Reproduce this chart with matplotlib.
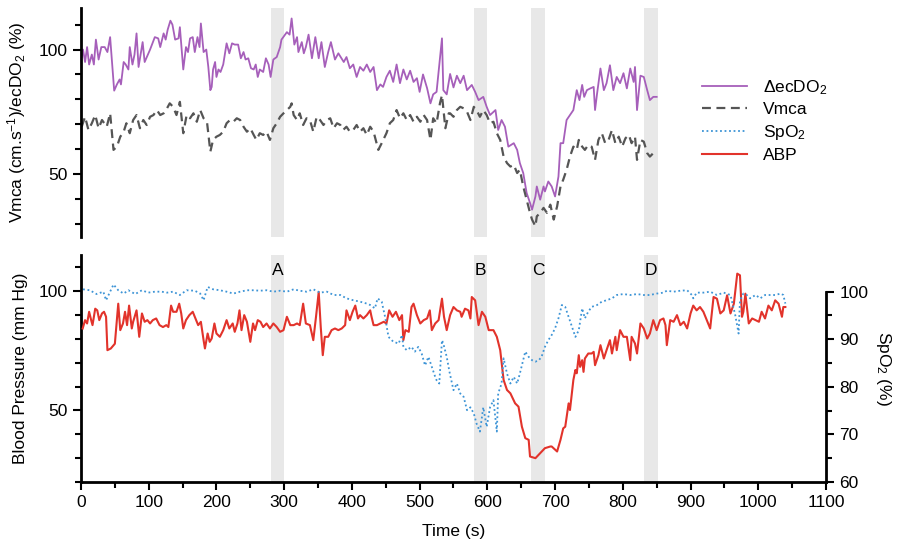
import matplotlib
matplotlib.use('Agg')
import matplotlib.pyplot as plt
from matplotlib.ticker import MultipleLocator, FixedLocator

plt.rcParams['font.family'] = ['Liberation Sans', 'DejaVu Sans']
plt.rcParams['mathtext.fontset'] = 'custom'
plt.rcParams['mathtext.rm'] = 'Liberation Sans'
plt.rcParams['mathtext.it'] = 'Liberation Sans:italic'
plt.rcParams['font.size'] = 12

# --- data (time in s) ---
decdo2_t = [1, 3, 6, 9, 12, 16, 19, 22, 26, 30, 35, 39, 43, 49, 53, 57, 59, 63, 66, 70,
            72, 76, 79, 82, 85, 91, 94, 102, 109, 114, 117, 122, 125, 128, 132, 135, 139, 144, 146, 151,
            155, 158, 161, 165, 168, 172, 175, 177, 181, 185, 188, 191, 193, 195, 198, 200, 203, 206, 210, 215,
            219, 223, 227, 232, 236, 240, 243, 247, 251, 255, 258, 261, 264, 269, 273, 277, 280, 284, 289, 294,
            296, 304, 308, 311, 315, 319, 321, 326, 329, 332, 336, 341, 346, 351, 355, 360, 365, 369, 375, 380,
            388, 392, 397, 402, 407, 412, 417, 422, 427, 432, 437, 442, 446, 451, 456, 461, 466, 471, 476, 481,
            486, 491, 496, 500, 505, 511, 516, 520, 525, 533, 535, 540,
            545, 550, 555, 560, 565, 570, 577, 582, 587, 594, 599, 604, 612, 616, 621, 626, 631, 639, 644, 648,
            653, 658, 663, 666, 671, 673, 678, 683, 685, 690, 695, 700, 705, 708, 712, 717, 722, 727, 732, 736,
            740, 743, 747, 752, 757, 759, 762, 767, 772, 776, 781, 786, 791, 796, 801, 806, 811, 816, 818, 821,
            826, 831, 836, 840, 845, 850]
decdo2 = [97, 100, 95, 101, 94, 98, 94, 104, 96, 101, 101, 99, 105, 83.5, 86, 88, 86, 95, 94, 92,
          101, 94, 98, 106.5, 93, 103, 95, 100, 105, 104.5, 101, 106.5, 104, 108, 111.6, 110, 104, 104.5, 109, 92,
          101, 99, 104.5, 105, 99, 105, 101, 110.5, 99, 100, 93, 83.7, 85, 92, 95, 89, 92, 91, 94, 102.5,
          98.5, 102.5, 102, 102, 96.5, 99, 96, 96.5, 92.5, 92, 94, 89, 92, 91, 96.5, 94, 89, 96, 97, 101,
          104, 107, 106, 112.5, 102, 105, 99, 103, 98.5, 101, 106, 96.5, 105, 96.5, 103, 93, 99, 103, 96, 98.5,
          95, 97, 92.5, 94, 89, 93, 91.5, 94, 91, 93, 83.7, 86, 85, 89, 91.5, 87, 94, 86.5, 92, 88,
          91.5, 87, 88.5, 83, 90, 84.5, 78.4, 82, 83, 104.5, 83.7, 82,
          90.2, 84.8, 89.5, 86.5, 89.5, 83.7, 85.8, 83, 79.7, 81, 77, 73.7, 75.7, 67.7, 71.7, 69, 61, 62.4, 59.7, 54.4,
          50.4, 42.4, 38.4, 35.7, 41, 45, 39.7, 45, 43, 47, 45, 41, 49, 62.4, 62.4, 71.7, 73.7, 75.7, 83.7, 79.7,
          85.8, 81, 83.7, 84.4, 85, 75.7, 82.3, 92.4, 83.7, 86.5, 93.7, 83.7, 89, 86.5, 90.5, 84.4, 92.4, 87, 93, 75.7,
          89.5, 89, 83.7, 79.7, 81, 81]

vmca_t = [1, 6, 11, 16, 21, 26, 31, 38, 43, 48, 53, 58, 63, 67, 72, 77, 82, 87, 92, 97,
          102, 107, 112, 117, 122, 127, 131, 136, 141, 146, 151, 156, 161, 166, 171, 176, 181, 186, 191, 195,
          200, 205, 210, 215, 220, 225, 230, 235, 240, 245, 250, 255, 259, 264, 269, 274, 279, 284, 289, 294,
          299, 304, 309, 311, 314, 319, 323, 328, 333, 338, 343, 348, 353, 358, 363, 368, 373, 378, 383, 387,
          392, 397, 402, 407, 412, 417, 422, 427, 432, 439, 444, 451, 456, 461, 466, 471, 476, 481, 486, 491,
          496, 501, 506, 511, 516, 520, 525, 530, 533, 538, 543,
          545, 550, 555, 560, 565, 570, 575, 580, 584, 589, 594, 599, 604, 609, 614, 619, 624, 629, 634, 639,
          644, 648, 653, 658, 663, 666, 671, 673, 678, 683, 688, 693, 698, 703, 708, 712, 717, 722, 727, 732,
          735, 740, 744, 749, 754, 759, 764, 769, 774, 779, 784, 789, 794, 799, 804, 809, 813, 818, 821, 826,
          831, 836, 840, 845, 850]
vmca = [69, 73, 67.7, 70.4, 73.7, 68.4, 71.7, 69, 74.4, 59.7, 61, 65, 67, 70.4, 66.4, 71.7, 73.7, 68.4, 71.7, 69.7,
        73, 73.7, 75.7, 73.7, 74.4, 76.4, 78.4, 77, 73.7, 79, 66.4, 73.7, 72.4, 74.4, 71, 75.7, 72.4, 71, 59, 63.7,
        65, 65.7, 67, 70.4, 71.7, 71, 72.4, 71.7, 69, 67, 68.4, 65.7, 63.7, 66.4, 65.7, 67, 63.7, 68.4, 70.4, 73,
        74.4, 75.7, 77, 78.4, 73.7, 71.7, 74.4, 69.7, 72.4, 71.7, 67, 73, 71.7, 69.7, 71.7, 72.4, 68.4, 70.4, 69.7, 67.7,
        69, 67, 67.7, 69.7, 67, 68.4, 65.7, 69, 67, 59.7, 62.4, 66.4, 70.4, 71.7, 75.7, 72.4, 74.4, 71.7, 73.7, 71,
        73, 71, 73.7, 71.7, 63.7, 72.4, 70.4, 78.4, 81.7, 68.4, 74.4,
        74.4, 73, 75.7, 77, 76.4, 75, 71.7, 77, 75.7, 73, 75.7, 73.7, 70.4, 71, 66.4, 63.7, 57, 54.4, 53, 53.7,
        50.4, 51.7, 45, 39.7, 34.4, 31.7, 29, 33, 34.4, 36.4, 34.4, 37.7, 31.7, 37, 45, 47.7, 51.7, 57, 61, 59.7,
        63.7, 61, 59.7, 61.7, 61, 55.7, 63.7, 66.4, 62.4, 63.7, 67.7, 62.4, 65, 61, 64.4, 65.7, 62.4, 65, 55.7, 63.7,
        63, 58.4, 57, 58.4, 58.4]

spo2_t = [3, 13, 23, 33, 37, 43, 48, 55, 63, 70, 80, 90, 99, 109, 119, 127, 136, 146, 156, 168,
          176, 181, 187, 195, 205, 215, 225, 235, 245, 255, 264, 274, 284, 294, 304, 314, 323, 333, 343, 353,
          363, 373, 383, 392, 402, 412, 422, 427, 434, 438, 444, 449, 454, 461, 469, 474, 476, 481, 488, 493,
          498, 503, 508, 513, 518, 523, 525, 529, 533, 535, 540, 544,
          550, 555, 560, 565, 570, 575, 580, 584, 589, 594, 599, 604, 609, 614, 616, 621, 624, 629, 634, 639,
          644, 648, 656, 661, 666, 671, 676, 680, 685, 690, 695, 700, 705, 710, 715, 720, 725, 730, 735, 740,
          744, 749, 754, 762, 769, 776, 784, 791, 801, 811, 821, 831, 840, 850, 860, 865, 875, 885, 895, 902,
          904, 909, 919, 929, 939, 949, 959, 966, 971, 973, 978, 983, 988, 996, 1003, 1010, 1018, 1025, 1033, 1037,
          1040]
spo2 = [100.5, 100.3, 99.5, 100, 98.2, 100, 101.5, 100.3, 99.6, 100.3, 99.5, 100.3, 99.8, 100, 100, 99.8, 100, 99.3, 100.3, 100.2,
        99.6, 98.2, 101, 100.5, 100.3, 100, 99.6, 100, 100.3, 100.3, 100.2, 100.3, 100, 100.2, 100, 100.5, 100.2, 100, 100.5, 99.8,
        100, 99.3, 99.3, 98.6, 98.2, 97.9, 97.5, 97.2, 96.5, 98.6, 97.9, 94.7, 90.5, 89.5, 89.1, 90.9, 88.4, 87.7, 88.4, 87.4,
        88.4, 87, 84.5, 86.3, 84.2, 82.1, 81.4, 80.7, 89.8, 89.1, 86.3, 83.2,
        79.3, 80.7, 78.6, 77.9, 75.1, 75.7, 74.4, 72.3, 70.6, 75.7, 71.6, 75.7, 77.2, 70.6, 78.6, 80.7, 86, 82.8, 80.7, 82.1,
        80.7, 82.8, 87.4, 86.3, 85.6, 85.3, 85.6, 86.3, 88.4, 89.8, 90.9, 92.3, 94.4, 97.2, 96.8, 94.7, 92.6, 90.5, 91.9, 96.5,
        94.4, 95.8, 96.8, 97.2, 97.9, 98.2, 98.6, 99.3, 99.5, 99.3, 99.5, 99.3, 99.3, 99.6, 99.8, 100.2, 100, 100.2, 100.3, 99.3,
        98.6, 99.8, 99.8, 100, 99.3, 99.8, 99.3, 95.1, 91.2, 98.2, 99.6, 99.3, 98.6, 99.3, 98.6, 99.3, 99.3, 99.3, 99.6, 99.3,
        97.5]

abp_t = [2.5, 6, 9, 12, 15, 17, 21, 24, 27, 31, 34, 37, 39, 44, 50, 55, 58, 62, 65, 68,
         71, 75, 77, 82, 86, 90, 94, 98, 102, 106, 111, 116, 121, 126, 129, 133, 136, 141, 145, 148,
         151, 155, 160, 165, 170, 173, 177, 181, 183, 187, 190, 193, 197, 200, 205, 210, 215, 219, 224, 227,
         231, 234, 237, 241, 245, 250, 254, 257, 261, 265, 269, 274, 279, 284, 289, 294, 299, 304, 309, 314,
         319, 323, 328, 332, 338, 343, 347, 351, 354, 357, 360, 365, 370, 375, 380, 385, 390, 392, 397, 401,
         405, 409, 412, 417, 422, 427, 429, 432, 437, 442, 447, 451, 455, 460, 465, 470, 474, 476, 479, 484,
         488, 491, 496, 501, 506, 511, 515, 518, 523, 528, 533, 536, 540, 545,
         550, 555, 560, 562, 567, 572, 575, 577, 582, 587, 592, 597, 602, 609, 614, 619, 624, 629, 634, 641,
         646, 651, 656, 661, 663, 671, 678, 685, 693, 695, 703, 708, 712, 715, 720, 722, 727, 730, 732, 735,
         737, 740, 742, 744, 749, 754, 757, 759, 764, 767, 772, 776, 781, 784, 789, 791, 796, 801, 806, 811,
         813, 818, 821, 826, 831, 836, 840, 845, 850, 855, 860, 863, 865, 870, 875, 880, 885, 890, 895, 900,
         904, 909, 914, 919, 924, 929, 934, 939, 944, 949, 954, 959, 964, 969, 973, 976, 978, 981, 986, 991,
         996, 1001, 1005, 1010, 1015, 1020, 1025, 1030, 1035, 1037, 1040]
abp = [84.4, 87.9, 86.5, 91.4, 87.9, 85.8, 92.7, 92, 87.9, 90.7, 91.4, 89.3, 75.3, 76, 78, 94.8, 83.7, 86.5, 91.4, 85.8,
       94, 84.4, 87.2, 92, 80.9, 90.7, 87.2, 87.9, 86.5, 87.9, 88.6, 85.8, 85, 85.8, 85, 94, 91.4, 91.4, 94.8, 90.7,
       84.4, 87.9, 90, 91.4, 87.9, 85.8, 87.2, 79.5, 76, 82.3, 78.8, 80.2, 86.5, 82.3, 80.9, 83.7, 87.9, 84.4, 86.5, 83,
       86.5, 92, 83.7, 90, 87.2, 78.8, 86.5, 83.7, 87.9, 87.2, 85, 86.5, 84.4, 86.5, 85, 83, 83.7, 89.3, 85.8, 85.8,
       86.5, 85.8, 94.8, 86.5, 85.8, 79.5, 89.3, 99.7, 85, 73.2, 80.9, 80.9, 83.7, 84.4, 83.7, 84.4, 85.8, 92, 87.9, 91.4,
       94, 88.6, 90, 88.6, 90, 92, 89.3, 85.8, 85.8, 86.5, 87.2, 86.5, 92, 89.3, 91.4, 87.9, 90, 79.5, 83.7, 83,
       93.4, 94.8, 90, 86.5, 87.9, 88.6, 92, 83.7, 86.5, 87.9, 96.9, 89.3, 83.7, 90,
       93.4, 92, 91.4, 89.3, 92.7, 92, 88.6, 97.6, 96.2, 85.8, 91.4, 89.3, 83.7, 83.7, 80.9, 75.3, 62.8, 58.6, 57.2, 53,
       51.6, 43.2, 38.4, 37.7, 30.7, 30, 32.1, 34.2, 34.9, 34.9, 32.8, 37.7, 42.5, 43.2, 53, 50.2, 62.8, 67, 65.6, 73.2,
       68.3, 71.1, 66.2, 71.8, 73.9, 73.9, 74.6, 69, 73.2, 77.4, 71.8, 75.3, 79.5, 73.9, 80.9, 75.3, 83.7, 80.9, 80.9, 71.1,
       80.9, 78.1, 73.9, 86.5, 84.4, 80.2, 82.3, 87.9, 83.7, 87.9, 88.6, 85.8, 77.4, 87.9, 87.2, 90, 85.8, 87.2, 84.4, 90.7,
       94, 92, 93.4, 91.4, 87.9, 84.4, 97.6, 96.9, 90.7, 92, 98.3, 90.7, 94.8, 107.4, 106.7, 89.3, 91.4, 99, 86.5, 88.6,
       87.9, 87.2, 91.4, 88.6, 94, 92, 96.2, 94.8, 89.3, 93.4, 93.4]

band_starts = [280, 580, 665, 832]
band_ends = [300, 600, 685, 852]
band_labels = ['A', 'B', 'C', 'D']

purple = '#a65fba'
dark = '#555555'
blue = '#3d94d6'
red = '#e2332b'
band_color = '#e8e8e8'

fig = plt.figure(figsize=(8.98, 5.48), dpi=100)
ax1 = fig.add_axes([0.0902, 0.5675, 0.8296, 0.4179])
ax2 = fig.add_axes([0.0902, 0.1204, 0.8296, 0.4142])

for s, e in zip(band_starts, band_ends):
    ax1.axvspan(s, e, color=band_color, lw=0, zorder=0)
    ax2.axvspan(s, e, color=band_color, lw=0, zorder=0)

l1, = ax1.plot(decdo2_t, decdo2, color=purple, lw=1.3, label='ΔecDO$_2$')
l2, = ax1.plot(vmca_t, vmca, color=dark, lw=1.6, dashes=(4, 2.5), label='Vmca')

ax1.set_xlim(0, 1100)
ax1.set_ylim(24.7, 116.7)
for side in ['top', 'right', 'bottom']:
    ax1.spines[side].set_visible(False)
ax1.spines['left'].set_linewidth(2)
ax1.set_xticks([])
ax1.yaxis.set_major_locator(MultipleLocator(50))
ax1.yaxis.set_minor_locator(MultipleLocator(10))
ax1.tick_params(axis='y', which='major', length=6, width=1.5, labelsize=12.5)
ax1.tick_params(axis='y', which='minor', length=4, width=1.5)
ax1.set_ylabel('Vmca (cm.s$^{-1}$)/ecDO$_2$ (%)', fontsize=12.5, labelpad=8)

l4, = ax2.plot(abp_t, abp, color=red, lw=1.5, label='ABP', zorder=3)
ax2.set_xlim(0, 1100)
ax2.set_ylim(20, 115.2)
for side in ['top', 'right']:
    ax2.spines[side].set_visible(False)
ax2.spines['left'].set_linewidth(2)
ax2.spines['bottom'].set_linewidth(2)
ax2.xaxis.set_major_locator(MultipleLocator(100))
ax2.xaxis.set_minor_locator(MultipleLocator(50))
ax2.yaxis.set_major_locator(MultipleLocator(50))
ax2.yaxis.set_minor_locator(MultipleLocator(10))
ax2.tick_params(which='major', length=6, width=1.5, labelsize=12.5)
ax2.tick_params(which='minor', length=4, width=1.5)
ax2.set_xlabel('Time (s)', fontsize=12.5, labelpad=10)
ax2.set_ylabel('Blood Pressure (mm Hg)', fontsize=12.5, labelpad=8)

for s, e, lab in zip(band_starts, band_ends, band_labels):
    ax2.text((s + e) / 2, 108.8, lab, ha='center', va='center', fontsize=12.5)

ax3 = ax2.twinx()
l3, = ax3.plot(spo2_t, spo2, color=blue, lw=1.3, linestyle=(0, (1, 1.5)), label='SpO$_2$')
ax3.set_ylim(60, 107.7)
for side in ['top', 'left', 'bottom']:
    ax3.spines[side].set_visible(False)
ax3.spines['right'].set_linewidth(2)
ax3.spines['right'].set_bounds(60, 100)
ax3.yaxis.set_major_locator(FixedLocator([60, 70, 80, 90, 100]))
ax3.yaxis.set_minor_locator(FixedLocator([65, 75, 85, 95]))
ax3.tick_params(which='major', length=6, width=1.5, labelsize=12.5)
ax3.tick_params(which='minor', length=4, width=1.5)
ax3.set_ylabel('SpO$_2$ (%)', fontsize=12.5, rotation=270, labelpad=18)

fig.legend(handles=[l1, l2, l3, l4], loc='upper left', bbox_to_anchor=(0.7817, 0.8577),
           frameon=False, fontsize=12.5, handlelength=2.6, handletextpad=0.9,
           labelspacing=0.32, borderpad=0, borderaxespad=0)

fig.savefig('out.png', dpi=100)
